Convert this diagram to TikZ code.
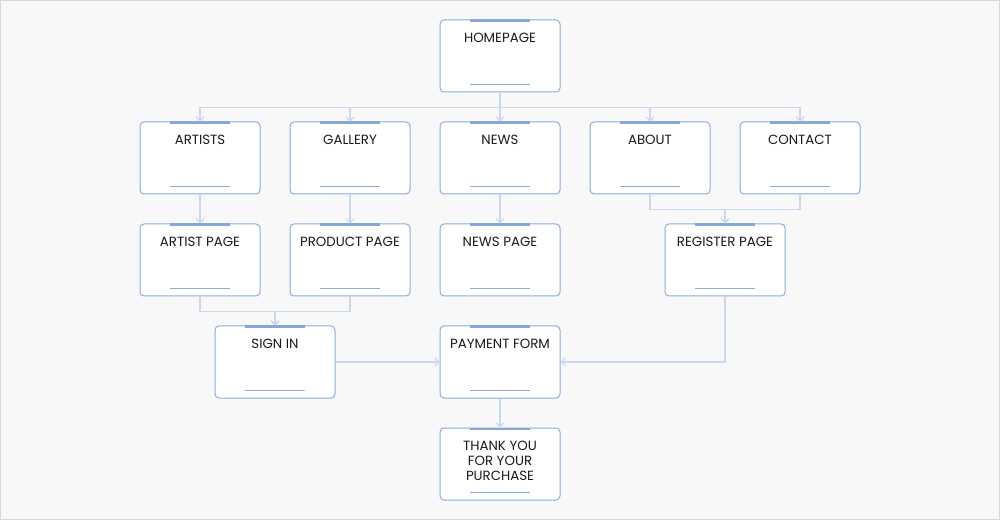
\documentclass[tikz,border=0pt]{standalone}
\usepackage{fontspec}
\setmainfont{Poppins}
\usetikzlibrary{arrows.meta,positioning,calc}
\definecolor{boxline}{HTML}{8CACE0}
\definecolor{barblue}{HTML}{86A7DC}
\definecolor{linkblue}{HTML}{C9D8F1}
\definecolor{bggray}{HTML}{F8F8F8}
\definecolor{txt}{HTML}{1A1A1A}
\tikzset{
	page/.style={shape=rectangle, draw=boxline, fill=white, line width=0.75pt, rounded corners=3pt,
		minimum width=90pt, minimum height=54pt, inner sep=0pt},
	pagetext/.style={anchor=north, inner sep=0pt, text=txt, align=center,
		font=\fontsize{10}{11.25}\selectfont},
	link/.style={draw=linkblue, line width=1.1pt},
	tip/.style={-{Straight Barb[length=3pt,width=6pt,line width=0.8pt]}}
}
\begin{document}
\begin{tikzpicture}[x=0.75pt,y=-0.75pt]
	\useasboundingbox (0,0) rectangle (1000,520);
	\draw[fill=bggray, draw=black!15, line width=0.75pt] (0.5,0.5) rectangle (999.5,519.5);
	% pages
	\path (500,56) node (home) [page] {}
		  (200,158) node (artists) [page] {}
		  (350,158) node (gallery) [page] {}
		  (500,158) node (news) [page] {}
		  (650,158) node (about) [page] {}
		  (800,158) node (contact) [page] {}
		  (200,260) node (artistpage) [page] {}
		  (350,260) node (productpage) [page] {}
		  (500,260) node (newspage) [page] {}
		  (725,260) node (register) [page] {}
		  (275,362) node (signin) [page] {}
		  (500,362) node (payment) [page] {}
		  (500,464) node (thanks) [page] {};
	% titles
	\foreach \n/\t in {home/HOMEPAGE, artists/ARTISTS, gallery/GALLERY, news/NEWS, about/ABOUT,
		contact/CONTACT, artistpage/ARTIST PAGE, productpage/PRODUCT PAGE, newspage/NEWS PAGE,
		register/REGISTER PAGE, signin/SIGN IN, payment/PAYMENT FORM,
		thanks/{THANK YOU\\FOR YOUR\\PURCHASE}}
		\node (\n-t) [pagetext] at ([yshift=-9.9pt]\n.north) {\t};
	% bars
	\foreach \n in {home,artists,gallery,news,about,contact,artistpage,productpage,newspage,register,signin,payment,thanks} {
		\draw[barblue, line width=2.2pt] ([xshift=-22.5pt,yshift=-1.1pt]\n.north) -- ([xshift=22.5pt,yshift=-1.1pt]\n.north);
		\draw[boxline, line width=0.6pt] ([xshift=-22.5pt,yshift=6pt]\n.south) -- ([xshift=22.5pt,yshift=6pt]\n.south);
	}
	% links
	\foreach \n in {artists,gallery,news,about,contact}
		\draw[link,tip] (home.south) -- ++(0,15) -| (\n.north);
	\draw[link,tip] (artists) -- (artistpage);
	\draw[link,tip] (gallery) -- (productpage);
	\draw[link,tip] (news) -- (newspage);
	\draw[link,tip] (about.south) -- ++(0,15) -| (register.north);
	\draw[link,tip] (contact.south) -- ++(0,15) -| (register.north);
	\draw[link,tip] (artistpage.south) -- ++(0,15) -| (signin.north);
	\draw[link,tip] (productpage.south) -- ++(0,15) -| (signin.north);
	\draw[link,tip] (signin) -- (payment);
	\draw[link,tip] (register.south) |- (payment.east);
	\draw[link,tip] (payment) -- (thanks);
\end{tikzpicture}
\end{document}
